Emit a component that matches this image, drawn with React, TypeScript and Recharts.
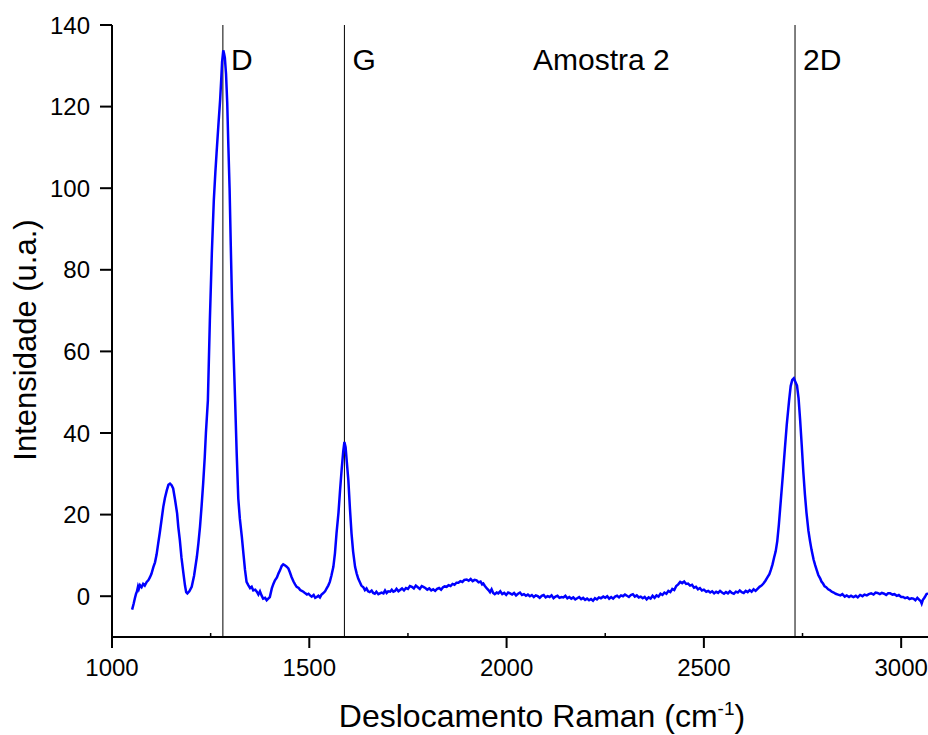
import React from "react";
import { LineChart, Line, XAxis, YAxis, ReferenceLine } from "recharts";

// Raman shift (cm^-1)
const shifts = [
  1051, 1055, 1058, 1061, 1063, 1066, 1068, 1071, 1075, 1079, 1083, 1088, 1092, 1096, 1100, 1105, 1109, 1113, 1117, 1121,
  1125, 1130, 1134, 1139, 1143, 1147, 1151, 1155, 1160, 1165, 1168, 1172, 1176, 1181, 1185, 1188, 1191, 1196, 1202, 1208,
  1215, 1219, 1223, 1227, 1231, 1235, 1238, 1243, 1248, 1253, 1258, 1262, 1265, 1270, 1274, 1277, 1279, 1282, 1284, 1286,
  1289, 1292, 1295, 1298, 1301, 1304, 1308, 1312, 1316, 1320, 1324, 1329, 1333, 1337, 1341, 1345, 1350, 1354, 1358, 1363,
  1367, 1371, 1375, 1379, 1383, 1388, 1392, 1396, 1400, 1405, 1409, 1413, 1418, 1422, 1426, 1430, 1434, 1438, 1442, 1447,
  1451, 1455, 1460, 1464, 1468, 1473, 1477, 1481, 1485, 1490, 1494, 1498, 1502, 1506, 1511, 1515, 1519, 1523, 1527, 1531,
  1535, 1540, 1544, 1548, 1552, 1556, 1561, 1565, 1569, 1574, 1578, 1582, 1586, 1589, 1592, 1595, 1599, 1603, 1607, 1611,
  1616, 1620, 1624, 1628, 1632, 1637, 1641, 1645, 1649, 1653, 1658, 1662, 1666, 1670, 1675, 1679, 1683, 1688, 1692, 1696,
  1700, 1705, 1709, 1713, 1717, 1721, 1726, 1730, 1735, 1740, 1745, 1750, 1755, 1760, 1765, 1770, 1775, 1780, 1785, 1789,
  1794, 1799, 1804, 1809, 1814, 1819, 1824, 1829, 1834, 1839, 1843, 1848, 1853, 1858, 1863, 1868, 1873, 1878, 1883, 1888,
  1893, 1899, 1904, 1909, 1914, 1919, 1924, 1929, 1934, 1938, 1941, 1945, 1950, 1954, 1958, 1962, 1966, 1970, 1975, 1979,
  1984, 1989, 1994, 1999, 2004, 2009, 2014, 2019, 2024, 2029, 2034, 2039, 2044, 2049, 2054, 2059, 2064, 2069, 2074, 2079,
  2084, 2089, 2094, 2099, 2104, 2109, 2114, 2119, 2124, 2129, 2134, 2139, 2144, 2149, 2154, 2159, 2164, 2169, 2174, 2179,
  2184, 2189, 2194, 2199, 2204, 2209, 2214, 2219, 2224, 2229, 2234, 2239, 2245, 2250, 2255, 2260, 2265, 2270, 2275, 2280,
  2285, 2290, 2295, 2300, 2305, 2310, 2315, 2320, 2325, 2330, 2335, 2340, 2345, 2350, 2355, 2360, 2365, 2370, 2375, 2380,
  2385, 2390, 2395, 2400, 2405, 2410, 2415, 2420, 2425, 2430, 2435, 2440, 2445, 2450, 2455, 2460, 2465, 2470, 2475, 2480,
  2485, 2490, 2495, 2500, 2506, 2511, 2516, 2521, 2526, 2531, 2536, 2541, 2546, 2551, 2556, 2561, 2566, 2571, 2576, 2581,
  2586, 2591, 2596, 2601, 2606, 2611, 2616, 2621, 2626, 2631, 2636, 2641, 2646, 2651, 2656, 2661, 2666, 2670, 2674, 2678,
  2682, 2686, 2690, 2695, 2700, 2705, 2710, 2716, 2720, 2724, 2728, 2732, 2736, 2740, 2744, 2748, 2752, 2756, 2760, 2765,
  2769, 2773, 2778, 2782, 2786, 2790, 2795, 2798, 2802, 2806, 2810, 2815, 2819, 2824, 2829, 2834, 2840, 2846, 2851, 2857,
  2862, 2868, 2873, 2879, 2885, 2890, 2896, 2902, 2907, 2913, 2918, 2924, 2930, 2935, 2940, 2946, 2951, 2957, 2962, 2967,
  2972, 2978, 2983, 2989, 2994, 3000, 3005, 3010, 3016, 3021, 3026, 3031, 3036, 3041, 3046, 3050, 3052, 3055, 3058, 3060,
  3064, 3068,
];

// Intensity (u.a.)
const intensity = [
  -3.3, -1.8, -0.5, 0.6, 1.1, 2.4, 1.8, 2.7, 2.2, 3.0, 2.6, 3.5, 3.9, 4.6, 5.5, 7.2, 8.3, 10.2, 12.9, 15.5,
  18.3, 21.9, 24.0, 26.0, 27.3, 27.6, 27.2, 26.4, 23.5, 20.3, 17.0, 13.7, 9.5, 5.6, 2.6, 1.0, 0.7, 1.2, 2.3, 5.0,
  9.6, 13.0, 17.0, 22.0, 27.6, 34.0, 40.0, 48.0, 67.6, 84.0, 97.0, 104.0, 108.6, 116.0, 121.6, 127.0, 131.0, 133.8, 133.0, 132.0,
  128.0, 121.0, 110.0, 100.0, 86.0, 73.0, 60.0, 48.0, 35.0, 24.0, 19.0, 14.6, 10.5, 6.5, 3.5, 2.8, 2.0, 2.3, 1.4, 1.6,
  1.1, 0.4, 1.2, 0.2, -0.6, -0.4, -1.0, -0.6, -0.2, 1.9, 3.0, 3.9, 4.6, 5.6, 6.4, 7.4, 7.8, 7.6, 7.3, 6.8,
  5.8, 4.7, 3.6, 2.9, 2.3, 2.0, 1.5, 1.3, 1.1, 0.7, 0.4, 0.6, 0.2, -0.1, 0.3, -0.4, -0.2, 0.1, -0.3, 0.4,
  0.7, 1.2, 1.9, 2.6, 3.5, 5.0, 7.2, 10.5, 15.4, 20.5, 26.0, 31.0, 35.5, 37.8, 36.5, 33.0, 28.4, 21.5, 15.4, 11.0,
  7.2, 5.6, 4.3, 3.5, 2.6, 2.2, 1.5, 1.9, 1.2, 1.0, 1.4, 0.8, 0.6, 1.1, 0.5, 0.7, 0.9, 0.7, 1.4, 0.8,
  1.2, 1.1, 1.6, 1.1, 1.3, 1.8, 1.2, 1.5, 1.9, 1.4, 2.0, 1.8, 2.5, 2.3, 1.9, 2.6, 2.2, 1.8, 2.5, 2.3,
  2.0, 1.6, 1.9, 1.4, 1.7, 1.3, 1.8, 2.0, 1.6, 2.2, 2.4, 2.3, 2.7, 2.5, 3.0, 2.8, 3.3, 3.3, 3.7, 3.5,
  4.0, 4.1, 3.8, 4.2, 3.7, 4.0, 3.9, 3.4, 3.6, 2.9, 3.1, 2.5, 1.9, 1.5, 1.0, 1.7, 0.8, 0.5, 0.9, 0.7,
  1.2, 0.5, 0.8, 0.3, 0.9, 0.7, 0.4, 0.8, 0.2, 0.6, 0.9, 0.3, 0.5, 0.1, 0.4, 0.0, 0.3, -0.2, 0.2, 0.0,
  -0.4, 0.1, 0.3, -0.3, 0.0, -0.2, 0.2, -0.5, -0.1, 0.1, -0.4, -0.2, -0.3, 0.1, -0.5, -0.2, -0.6, -0.3, -0.8, -0.5,
  -0.2, -0.7, -0.4, -0.9, -0.6, -1.0, -0.7, -1.1, -0.5, -0.8, -0.3, -0.5, -0.1, -0.4, 0.0, -0.6, -0.2, -0.6, -0.1, 0.1,
  -0.3, 0.2, 0.0, 0.4, 0.1, -0.2, 0.3, 0.5, -0.1, 0.2, -0.3, -0.1, -0.5, -0.2, -0.8, -0.3, -0.6, 0.1, -0.4, 0.2,
  -0.1, 0.6, 0.3, 0.9, 0.6, 1.3, 1.0, 1.8, 1.5, 2.5, 2.9, 3.5, 3.2, 3.6, 3.0, 3.1, 2.6, 2.8, 2.1, 2.3,
  1.7, 2.0, 1.4, 1.6, 1.1, 1.3, 0.9, 1.2, 0.7, 1.1, 0.8, 1.3, 0.9, 0.6, 1.0, 0.7, 1.2, 0.8, 0.6, 1.1,
  0.9, 1.4, 1.0, 0.8, 1.3, 1.0, 1.5, 1.1, 1.7, 1.3, 1.8, 2.3, 2.6, 3.1, 3.8, 4.6, 5.4, 6.5, 7.8, 9.5,
  11.0, 13.5, 17.5, 23.5, 29.5, 35.8, 42.0, 48.0, 51.5, 53.0, 53.4, 52.5, 51.6, 48.5, 43.1, 37.0, 30.5, 25.0, 20.5, 16.0,
  13.5, 11.3, 9.0, 7.6, 6.4, 5.2, 4.3, 3.6, 3.1, 2.4, 2.2, 1.7, 1.5, 1.1, 0.9, 0.6, 0.4, 0.2, 0.5, -0.1,
  0.2, -0.2, 0.1, -0.2, 0.1, -0.3, 0.3, 0.0, 0.4, 0.2, 0.5, 0.7, 0.4, 0.9, 0.8, 0.5, 0.8, 0.6, 0.3, 0.7,
  0.7, 0.4, 0.5, 0.1, 0.3, -0.2, -0.2, -0.5, -0.3, -0.7, -0.5, -0.6, -1.0, -0.4, -0.9, -1.3, -1.8, -0.9, -0.5, -0.2,
  0.5, 0.7,
];

// Band positions (cm^-1) and names
const bandNames = ["D", "G", "2D"];
const bandPositions = [1281, 1589, 2731];
const sampleName = "Amostra 2";

const xMajorTicks = [1000, 1500, 2000, 2500, 3000];
const xAllTicks = [1000, 1250, 1500, 1750, 2000, 2250, 2500, 2750, 3000];
const yTicks = [0, 20, 40, 60, 80, 100, 120, 140];

const data = shifts.map((x, i) => ({ x, y: intensity[i] }));

const FONT = "'Liberation Sans', Arial, sans-serif";

const BottomTick = (props: any) => {
  const { x, y, payload } = props;
  const v = payload.value;
  const major = xMajorTicks.includes(v);
  if (!major) {
    return <line x1={x} y1={y} x2={x} y2={y - 4} stroke="#000" strokeWidth={1.5} />;
  }
  return (
    <g>
      <line x1={x} y1={y} x2={x} y2={y + 11} stroke="#000" strokeWidth={2} />
      <text x={x} y={y + 39} textAnchor="middle" fontSize={24} fontFamily={FONT} fill="#000">
        {v}
      </text>
    </g>
  );
};

const TopTick = (props: any) => {
  const { x, y } = props;
  return <line x1={x} y1={y} x2={x} y2={y + 4} stroke="#000" strokeWidth={1.5} />;
};

const bandLabel = (name: string) => (props: any) => {
  const vb = props.viewBox || {};
  return (
    <text x={vb.x + 8} y={70} fontSize={30} fontFamily={FONT} fill="#000">
      {name}
    </text>
  );
};

export default function App() {
  return (
    <div style={{ position: "absolute", left: 0, top: 0, width: 928, height: 735, overflow: "hidden", background: "#fff" }}>
      <LineChart width={928} height={735} data={data} margin={{ top: 25, right: 0, left: 0, bottom: 0 }}>
        <XAxis
          dataKey="x"
          type="number"
          domain={[1000, 3068]}
          allowDataOverflow
          ticks={xAllTicks}
          interval={0}
          height={98}
          tickSize={0}
          tickMargin={0}
          tickLine={false}
          axisLine={{ stroke: "#000", strokeWidth: 2 }}
          tick={<BottomTick />}
        />
        <XAxis
          xAxisId="top"
          orientation="top"
          dataKey="x"
          type="number"
          domain={[1000, 3068]}
          allowDataOverflow
          ticks={xAllTicks}
          interval={0}
          height={0}
          tickSize={0}
          tickMargin={0}
          tickLine={false}
          axisLine={{ stroke: "#000", strokeWidth: 2 }}
          tick={<TopTick />}
        />
        <YAxis
          type="number"
          domain={[-10, 140]}
          allowDataOverflow
          ticks={yTicks}
          interval={0}
          width={112}
          tickSize={12}
          tickMargin={10}
          axisLine={{ stroke: "#000", strokeWidth: 2 }}
          tickLine={{ stroke: "#000", strokeWidth: 2 }}
          tick={{ fill: "#000", fontSize: 24, fontFamily: FONT }}
        />
        {bandPositions.map((b, i) => (
          <ReferenceLine key={bandNames[i]} x={b} stroke="#000" strokeWidth={1} label={bandLabel(bandNames[i])} />
        ))}
        <Line
          type="linear"
          dataKey="y"
          stroke="#0000ff"
          strokeWidth={2.5}
          dot={false}
          isAnimationActive={false}
        />
      </LineChart>
      <svg
        width={928}
        height={735}
        style={{ position: "absolute", left: 0, top: 0, pointerEvents: "none" }}
      >
        <text x={533} y={70} fontSize={30} fontFamily={FONT} fill="#000">
          {sampleName}
        </text>
        <text x={542} y={727} textAnchor="middle" fontSize={32} fontFamily={FONT} fill="#000">
          Deslocamento Raman (cm
          <tspan dy={-12} fontSize={19}>-1</tspan>
          <tspan dy={12}>)</tspan>
        </text>
        <text
          x={36}
          y={340}
          textAnchor="middle"
          fontSize={31}
          fontFamily={FONT}
          fill="#000"
          transform="rotate(-90, 36, 340)"
        >
          Intensidade (u.a.)
        </text>
      </svg>
    </div>
  );
}
